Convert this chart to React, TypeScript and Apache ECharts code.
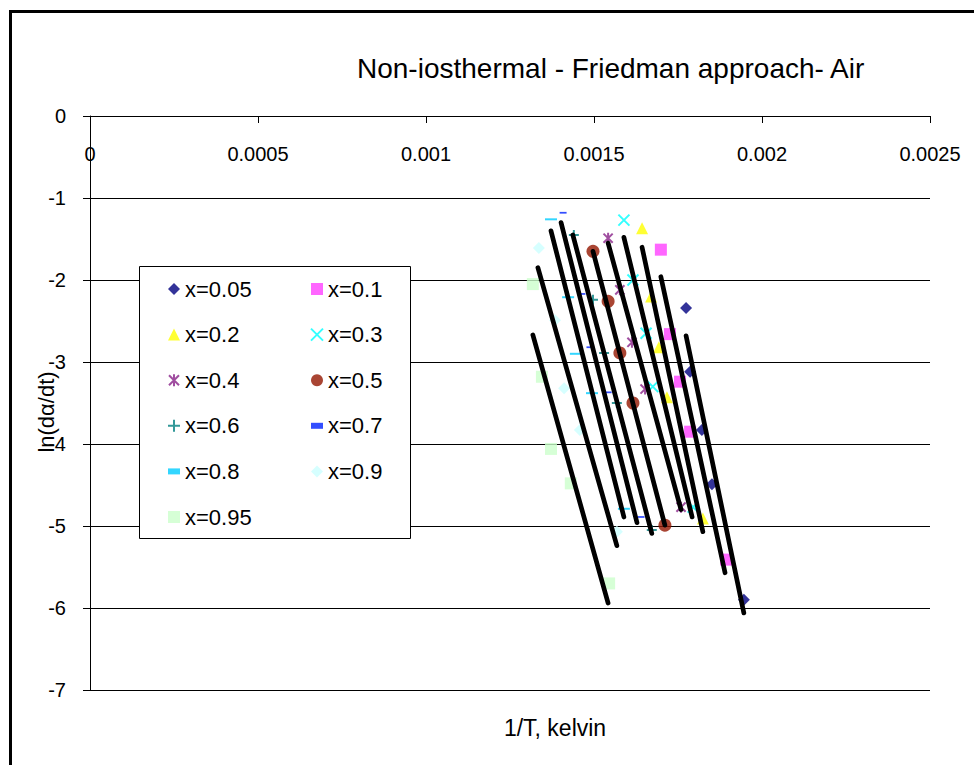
import React, { useEffect, useRef } from "react";
import * as echarts from "echarts";

const FONT = '"Liberation Sans", Arial, Helvetica, sans-serif';

const chartTitle = "Non-iosthermal - Friedman approach- Air";
const xAxisTitle = "1/T, kelvin";
const yAxisTitle = "ln(dα/dt)";

const xTickValues = [0, 0.0005, 0.001, 0.0015, 0.002, 0.0025];
const xTickLabels = ["0", "0.0005", "0.001", "0.0015", "0.002", "0.0025"];
const yTickValues = [-7, -6, -5, -4, -3, -2, -1, 0];
const yTickLabels = ["-7", "-6", "-5", "-4", "-3", "-2", "-1", "0"];

const seriesNames = ["x=0.05", "x=0.1", "x=0.2", "x=0.3", "x=0.4", "x=0.5", "x=0.6", "x=0.7", "x=0.8", "x=0.9", "x=0.95"];

// measured points (1/T, ln(dα/dt))
const invT_005 = [0.001774, 0.001786, 0.001821, 0.001851, 0.001946];
const ln_005 = [-2.34, -3.12, -3.83, -4.49, -5.9];
const invT_010 = [0.001699, 0.001726, 0.001756, 0.001786, 0.001893];
const ln_010 = [-1.63, -2.66, -3.24, -3.85, -5.41];
const invT_020 = [0.001643, 0.00167, 0.001693, 0.001717, 0.001824];
const ln_020 = [-1.37, -2.2, -2.82, -3.43, -4.91];
const invT_030 = [0.001589, 0.001616, 0.001655, 0.001675, 0.001795];
const ln_030 = [-1.27, -2.0, -2.65, -3.3, -4.77];
const invT_040 = [0.001542, 0.001577, 0.001613, 0.001652, 0.001759];
const ln_040 = [-1.49, -2.12, -2.76, -3.33, -4.77];
const invT_050 = [0.001497, 0.001542, 0.001577, 0.001616, 0.001711];
const ln_050 = [-1.65, -2.26, -2.89, -3.5, -4.99];
const invT_060 = [0.00144, 0.001497, 0.00153, 0.001568, 0.001672];
const ln_060 = [-1.45, -2.24, -2.89, -3.5, -5.05];
const invT_070 = [0.001408, 0.001464, 0.001488, 0.001542, 0.00164];
const ln_070 = [-1.18, -2.17, -2.82, -3.37, -4.89];
const invT_080 = [0.001372, 0.001423, 0.001446, 0.001494, 0.001589];
const ln_080 = [-1.26, -2.21, -2.9, -3.38, -4.79];
const invT_090 = [0.001336, 0.001384, 0.001411, 0.001458, 0.001568];
const ln_090 = [-1.61, -2.49, -3.32, -3.83, -5.07];
const invT_095 = [0.001318, 0.001345, 0.001372, 0.001431, 0.001545];
const ln_095 = [-2.05, -3.18, -4.06, -4.48, -5.7];

// linear trend line end points
const trendX_005 = [0.001774, 0.001946];
const trendY_005 = [-2.68, -6.06];
const trendX_010 = [0.001699, 0.00189];
const trendY_010 = [-1.96, -5.57];
const trendX_020 = [0.001643, 0.001824];
const trendY_020 = [-1.6, -5.07];
const trendX_030 = [0.001589, 0.001792];
const trendY_030 = [-1.48, -4.89];
const trendX_040 = [0.001542, 0.001759];
const trendY_040 = [-1.55, -4.8];
const trendX_050 = [0.001497, 0.001711];
const trendY_050 = [-1.65, -4.99];
const trendX_060 = [0.001437, 0.001672];
const trendY_060 = [-1.45, -5.09];
const trendX_070 = [0.001402, 0.001628];
const trendY_070 = [-1.3, -4.96];
const trendX_080 = [0.001372, 0.001589];
const trendY_080 = [-1.4, -4.89];
const trendX_090 = [0.001333, 0.001568];
const trendY_090 = [-1.85, -5.24];
const trendX_095 = [0.001318, 0.001542];
const trendY_095 = [-2.67, -5.94];

const pointsX = [invT_005, invT_010, invT_020, invT_030, invT_040, invT_050, invT_060, invT_070, invT_080, invT_090, invT_095];
const pointsY = [ln_005, ln_010, ln_020, ln_030, ln_040, ln_050, ln_060, ln_070, ln_080, ln_090, ln_095];
const trendsX = [trendX_005, trendX_010, trendX_020, trendX_030, trendX_040, trendX_050, trendX_060, trendX_070, trendX_080, trendX_090, trendX_095];
const trendsY = [trendY_005, trendY_010, trendY_020, trendY_030, trendY_040, trendY_050, trendY_060, trendY_070, trendY_080, trendY_090, trendY_095];

const CROSS = "path://M0,0L10,10M10,0L0,10";
const STAR = "path://M0,0L10,10M10,0L0,10M5,-1L5,11";
const PLUS = "path://M5,0L5,10M0,5L10,5";
const DASH = "path://M0,0H8V4H0Z";

const markerStyles: any[] = [
  { symbol: "diamond", size: 12, color: "#000080" },
  { symbol: "rect", size: 12, color: "#FF40FF" },
  { symbol: "triangle", size: 12, color: "#FFFF00" },
  { symbol: CROSS, size: 11, color: "#00FFFF", stroke: 2 },
  { symbol: STAR, size: 11, color: "#882288", stroke: 2 },
  { symbol: "circle", size: 13, color: "#941600" },
  { symbol: PLUS, size: 10, color: "#008080", stroke: 2 },
  { symbol: DASH, size: [7, 3.5], color: "#0022FF" },
  { symbol: DASH, size: [12, 4], color: "#00CCFF" },
  { symbol: "diamond", size: 12, color: "#CCFFFF" },
  { symbol: "rect", size: 12, color: "#CCFFCC" },
];

function xLabel(v: number) {
  const i = xTickValues.findIndex((t) => Math.abs(t - v) < 1e-9);
  return i >= 0 ? xTickLabels[i] : "";
}
function yLabel(v: number) {
  const i = yTickValues.findIndex((t) => Math.abs(t - v) < 1e-9);
  return i >= 0 ? yTickLabels[i] : "";
}

export default function App() {
  const ref = useRef<HTMLDivElement>(null);
  useEffect(() => {
    if (!ref.current) return;
    const chart = echarts.init(ref.current, undefined, { renderer: "svg" });

    const series: any[] = [];
    seriesNames.forEach((name, k) => {
      const m = markerStyles[k];
      series.push({
        type: "scatter",
        name,
        data: pointsX[k].map((x, i) => [x, pointsY[k][i]]),
        symbol: m.symbol,
        symbolSize: m.size,
        symbolKeepAspect: true,
        itemStyle: m.stroke
          ? { color: m.color, borderColor: m.color, borderWidth: m.stroke }
          : { color: m.color },
        z: 2,
      });
    });
    seriesNames.forEach((name, k) => {
      series.push({
        type: "line",
        name: name + " trend",
        data: trendsX[k].map((x, i) => [x, trendsY[k][i]]),
        symbol: "none",
        showSymbol: false,
        lineStyle: { color: "#000", width: 4.7, cap: "round" },
        silent: true,
        z: 3,
      });
    });

    const legendBase = {
      orient: "vertical",
      top: 278,
      padding: 0,
      itemWidth: 12,
      itemHeight: 12,
      itemGap: 23.6,
      selectedMode: false,
      textStyle: { fontSize: 22, lineHeight: 22, color: "#000", fontFamily: FONT },
    };

    chart.setOption({
      animation: false,
      backgroundColor: "#fff",
      textStyle: { fontFamily: FONT },
      title: {
        text: chartTitle,
        left: 357,
        top: 54,
        padding: 0,
        textStyle: { fontSize: 28, fontWeight: "normal", color: "#000", fontFamily: FONT },
      },
      grid: { left: 90, top: 116, width: 840, height: 574, containLabel: false },
      legend: [
        { ...legendBase, left: 167, data: ["x=0.05", "x=0.2", "x=0.4", "x=0.6", "x=0.8", "x=0.95"] },
        { ...legendBase, left: 310, data: ["x=0.1", "x=0.3", "x=0.5", "x=0.7", "x=0.9"] },
      ],
      xAxis: {
        type: "value",
        position: "top",
        min: 0,
        max: 0.0025,
        interval: 0.0005,
        axisLine: { show: true, lineStyle: { color: "#000", width: 1 } },
        axisTick: { show: true, inside: true, length: 7, lineStyle: { color: "#000" } },
        axisLabel: { inside: true, margin: 28, fontSize: 20, color: "#000", fontFamily: FONT, formatter: xLabel },
        splitLine: { show: false },
      },
      yAxis: {
        type: "value",
        min: -7,
        max: 0,
        interval: 1,
        axisLine: { show: true, onZero: false, lineStyle: { color: "#000", width: 1 } },
        axisTick: { show: true, length: 7, lineStyle: { color: "#000" } },
        axisLabel: { margin: 24, fontSize: 20, color: "#000", fontFamily: FONT, formatter: yLabel },
        splitLine: { show: true, lineStyle: { color: "#000", width: 1 } },
      },
      graphic: [
        {
          type: "rect",
          silent: true,
          z: 10,
          shape: { x: 10.5, y: 11.5, width: 1000, height: 800 },
          style: { fill: "none", stroke: "#000", lineWidth: 3 },
        },
        {
          type: "rect",
          silent: true,
          z: 3,
          shape: { x: 139.5, y: 266.5, width: 271, height: 272 },
          style: { fill: "#fff", stroke: "#000", lineWidth: 1 },
        },
        {
          type: "text",
          silent: true,
          x: 555,
          y: 728,
          style: { text: xAxisTitle, fontSize: 23, fontFamily: FONT, fill: "#000", align: "center", verticalAlign: "middle" },
        },
        {
          type: "text",
          silent: true,
          x: 46,
          y: 412,
          rotation: Math.PI / 2,
          style: { text: yAxisTitle, fontSize: 22, fontFamily: FONT, fill: "#000", align: "center", verticalAlign: "middle" },
        },
      ],
      series,
    });
    return () => chart.dispose();
  }, []);
  return <div ref={ref} style={{ position: "absolute", left: 0, top: 0, width: 974, height: 765 }} />;
}
